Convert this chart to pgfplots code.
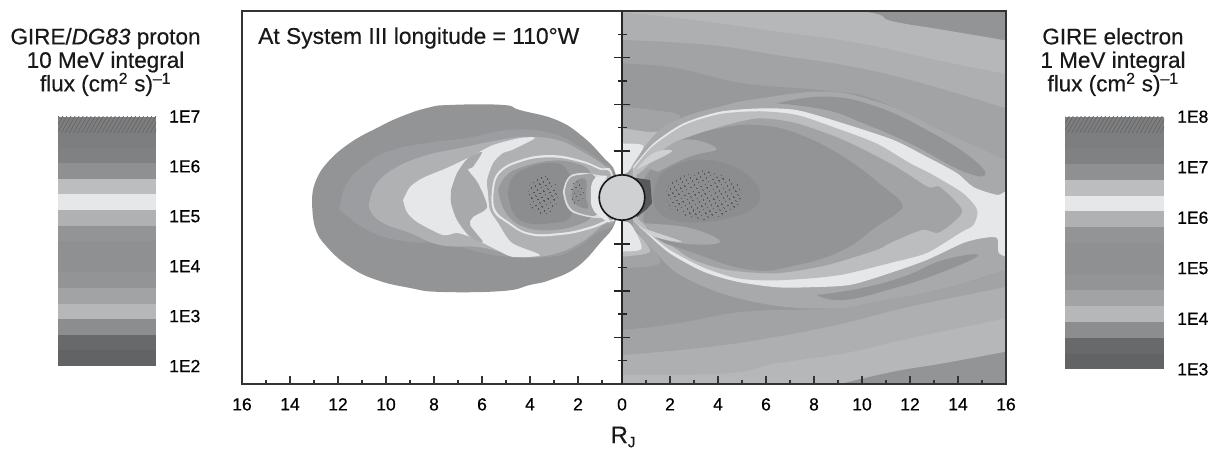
\documentclass[border=0pt]{standalone}
\usepackage{fontspec}
\setmainfont{Liberation Sans}[RawFeature={embolden=0.45}]
\usepackage{pgfplots}
\pgfplotsset{compat=1.18}
\usetikzlibrary{patterns.meta}
\definecolor{c62}{HTML}{626365}\definecolor{c68}{HTML}{68696B}
\definecolor{c7d}{HTML}{7D7E80}\definecolor{c80}{HTML}{808183}
\definecolor{c8c}{HTML}{8C8D8F}\definecolor{c8f}{HTML}{8F9092}
\definecolor{c93}{HTML}{939496}\definecolor{c98}{HTML}{98999B}
\definecolor{c9c}{HTML}{9C9DA0}\definecolor{ca2}{HTML}{A2A3A5}
\definecolor{ca8}{HTML}{A8A9AB}\definecolor{cae}{HTML}{AEAFB1}
\definecolor{cb0}{HTML}{B0B1B3}\definecolor{cb6}{HTML}{B6B7B9}
\definecolor{cbc}{HTML}{BCBDBF}\definecolor{cdc}{HTML}{DCDDDF}
\definecolor{ce6}{HTML}{E6E7E8}\definecolor{cd0}{HTML}{CFD0D1}
\definecolor{frame}{HTML}{333333}
\newcommand{\reg}[2]{\addplot[fill=#1,draw=none,smooth,tension=0.75,forget plot] coordinates {#2};}
\newcommand{\regs}[2]{\addplot[fill=#1,draw=none,smooth,tension=0.45,forget plot] coordinates {#2};}
\newcommand{\hotspot}[1]{\addplot[draw=none,forget plot,pattern={Dots[distance=4pt,radius=0.8pt,angle=30]},pattern color=black!75] coordinates {#1};}
\newcommand{\band}[3]{\addplot[fill=#1,draw=none,forget plot] coordinates {(0,#2)(1,#2)(1,#3)(0,#3)};}
\newcommand{\ticksfont}{\fontsize{17.5}{18}\selectfont}
\newcommand{\titlefont}{\fontsize{22.5}{23.5}\selectfont}
\pgfplotsset{cbar/.style={scale only axis,xmin=0,xmax=1,ymin=2,ymax=7,xtick=\empty,
  ytick={2,3,4,5,6,7},ytick pos=right,yticklabel pos=right,axis line style={draw=none},
  tick style={draw=none},anchor=south west,
  yticklabel style={font=\ticksfont,anchor=west,inner sep=0pt,xshift=13pt}}}
\begin{document}
\begin{tikzpicture}[x=1pt,y=1pt]
\path[use as bounding box] (0,0) rectangle (1210,456);

% left colour bar: proton flux, exponent of ten
\begin{axis}[cbar,at={(58pt,90pt)},width=98pt,height=249.5pt,
  yticklabels={1E2,1E3,1E4,1E5,1E6,1E7}]
\band{c62}{2}{2.3125}\band{c68}{2.3125}{2.625}\band{c8c}{2.625}{2.9375}
\band{cb6}{2.9375}{3.25}\band{ca2}{3.25}{3.5625}\band{c93}{3.5625}{3.875}
\band{c8f}{3.875}{4.1875}\band{c8f}{4.1875}{4.5}\band{c93}{4.5}{4.8125}
\band{cb0}{4.8125}{5.125}\band{ce6}{5.125}{5.4375}\band{cbc}{5.4375}{5.75}
\band{c8f}{5.75}{6.0625}\band{c80}{6.0625}{6.375}\band{c7d}{6.375}{6.6875}
\band{c7d}{6.6875}{7}
\addplot[draw=none,forget plot,pattern={Lines[angle=60,distance=3.5pt,line width=0.7pt]},pattern color=black!60] coordinates {(0,6.6875)(1,6.6875)(1,7)(0,7)};
\end{axis}

% right colour bar: electron flux
\begin{axis}[cbar,at={(1065pt,86.7pt)},width=99pt,height=252.6pt,
  yticklabels={1E3,1E4,1E5,1E6,1E7,1E8}]
\band{c62}{2}{2.3125}\band{c68}{2.3125}{2.625}\band{c8c}{2.625}{2.9375}
\band{cb6}{2.9375}{3.25}\band{ca2}{3.25}{3.5625}\band{c93}{3.5625}{3.875}
\band{c8f}{3.875}{4.1875}\band{c8f}{4.1875}{4.5}\band{c93}{4.5}{4.8125}
\band{cb0}{4.8125}{5.125}\band{ce6}{5.125}{5.4375}\band{cbc}{5.4375}{5.75}
\band{c8f}{5.75}{6.0625}\band{c80}{6.0625}{6.375}\band{c7d}{6.375}{6.6875}
\band{c7d}{6.6875}{7}
\addplot[draw=none,forget plot,pattern={Lines[angle=60,distance=3.5pt,line width=0.7pt]},pattern color=black!60] coordinates {(0,6.6875)(1,6.6875)(1,7)(0,7)};
\end{axis}

% left half: protons
\begin{axis}[scale only axis,at={(242pt,72pt)},anchor=south west,width=380pt,height=373pt,
  xmin=-16,xmax=-0.1667,ymin=-8,ymax=8,axis on top,
  xtick={-16,-14,-12,-10,-8,-6,-4,-2},xticklabels={16,14,12,10,8,6,4,2},
  minor xtick={-15,-13,-11,-9,-7,-5,-3,-1},ytick=\empty,
  xtick pos=bottom,tick align=inside,major tick length=8pt,minor tick length=4.5pt,
  tick style={frame,line width=1.5pt},
  axis line style={frame,line width=1.8pt},
  xticklabel style={font=\ticksfont,inner sep=0pt,yshift=-14pt}]
\reg{c93}{(-13.08,-.11)(-12.96,.62)(-12.46,1.48)(-11.5,2.34)(-10.38,2.98)(-9.42,3.45)(-8.29,3.84)(-7.33,3.97)(-5.13,3.97)(-4.42,3.75)(-2.88,3.32)(-1.79,2.60)(-.96,1.74)(-.46,1.09)(-.38,.02)(-.46,-1.09)(-1.08,-1.95)(-2.04,-2.98)(-3.17,-3.54)(-4,-3.75)(-5.13,-4.01)(-7.75,-4.05)(-9,-3.88)(-10.38,-3.54)(-11.5,-2.98)(-12.46,-2.12)(-12.96,-1.27)(-13.08,-.11)}
\reg{c9c}{(-11.92,-.41)(-11.63,.62)(-10.79,1.48)(-9.71,2.04)(-8.04,2.38)(-6.63,2.55)(-4.83,2.9)(-3.17,2.77)(-1.92,2.17)(-.96,1.48)(-.54,1.05)(-.46,-.97)(-1.21,-1.52)(-2.21,-2.25)(-3.17,-2.55)(-4.71,-2.55)(-5.96,-2.38)(-7.63,-1.95)(-9,-1.91)(-10.54,-1.52)(-11.79,-.66)(-11.92,-.41)}
\reg{cb0}{(-10.67,-.11)(-10.38,.62)(-9.54,1.31)(-8.29,1.82)(-6.92,2.12)(-5.25,2.47)(-4.13,2.6)(-2.88,2.47)(-1.79,1.95)(-.79,1.27)(-.54,.88)(-.46,-.88)(-.96,-1.18)(-1.92,-1.95)(-3.17,-2.47)(-4.54,-2.55)(-5.25,-2.34)(-6.21,-2.12)(-7.75,-2.04)(-9,-1.52)(-10.13,-1.09)(-10.67,-.54)(-10.67,-.11)}
\regs{ce6}{(-9.29,-.11)(-9,.45)(-8.46,.84)(-7.46,1.27)(-6.5,1.74)(-5.54,2.25)(-4.42,2.55)(-3.79,2.55)(-4.75,2.04)(-5.13,1.91)(-5.54,1.48)(-5.79,.75)(-5.75,.19)(-5.67,-.54)(-5.33,-1.09)(-4.75,-1.95)(-3.58,-2.47)(-4.71,-2.55)(-5.38,-2.25)(-6.38,-1.74)(-7.04,-1.52)(-7.63,-1.61)(-8.71,-1.05)(-9.13,-.62)(-9.29,-.11)}
\regs{ca8}{(-7.29,.32)(-7.04,1.05)(-6.58,1.69)(-6,1.95)(-6.38,1.31)(-6.58,1.18)(-6.17,.62)(-5.79,-.41)(-6.38,-.84)(-6.5,-1.18)(-5.96,-1.91)(-6.5,-1.69)(-7.04,-.97)(-7.29,-.24)(-7.29,.32)}
\reg{ce6}{(-5.58,.32)(-5.33,1.09)(-4.42,1.61)(-3.17,1.82)(-1.92,1.61)(-1.08,1.27)(-.58,1.05)(-.42,-.75)(-.79,-1.05)(-1.63,-1.39)(-2.75,-1.61)(-4,-1.61)(-4.96,-1.09)(-5.54,-.54)(-5.58,.32)}
\reg{cae}{(-5.5,.32)(-5.26,1.03)(-4.4,1.52)(-3.17,1.72)(-1.92,1.52)(-1.12,1.2)(-.62,.95)(-.5,-.75)(-.88,-.99)(-1.67,-1.3)(-2.75,-1.52)(-4,-1.52)(-4.88,-1.04)(-5.46,-.48)(-5.5,.32)}
\reg{c98}{(-5.33,.32)(-5.04,.88)(-4.42,1.27)(-3.17,1.57)(-2.13,1.48)(-1.5,1.09)(-1.35,.2)(-1.42,-.62)(-1.71,-1.05)(-2.96,-1.39)(-4.21,-1.27)(-5,-.66)(-5.33,.32)}
\reg{c8c}{(-4.92,.19)(-4.71,.88)(-4,1.31)(-3.04,1.48)(-2.46,1.18)(-2.2,.19)(-2.33,-.84)(-3.04,-1.09)(-4.13,-1.09)(-4.71,-.62)(-4.92,.19)}
\hotspot{(-2.83,.11)(-2.91,.54)(-3.15,.85)(-3.46,.97)(-3.77,.85)(-4.01,.54)(-4.09,.11)(-4.01,-.32)(-3.77,-.63)(-3.46,-.75)(-3.15,-.63)(-2.91,-.32)}
\reg{cdc}{(-2.63,.24)(-2.42,.84)(-1.92,1.05)(-1.21,.97)(-.8,.8)(-.75,.1)(-.8,-.7)(-1.08,-.88)(-1.92,-.75)(-2.42,-.45)(-2.63,.24)}
\reg{ca2}{(-2.55,.24)(-2.37,.79)(-1.9,.97)(-1.3,.9)(-1.45,.02)(-1.2,-.72)(-1.9,-.68)(-2.37,-.37)(-2.55,.24)}
\reg{c8f}{(-2.25,.24)(-2.08,.71)(-1.67,.75)(-1.67,.02)(-1.58,-.45)(-2,-.36)(-2.25,-.11)(-2.25,.24)}
\hotspot{(-1.75,.24)(-1.83,.66)(-2.04,.84)(-2.25,.66)(-2.34,.24)(-2.25,-.18)(-2.04,-.36)(-1.83,-.18)}
\reg{ce6}{(-1.21,.88)(-1.42,.62)(-1.46,.02)(-1.42,-.41)(-1.17,-.75)(-.67,-1.05)(-1.08,-.32)(-1.13,.02)(-1.08,.54)(-.79,.92)(-1.21,.88)}
\end{axis}

% right half: electrons
\begin{axis}[scale only axis,at={(622pt,72pt)},anchor=south west,width=384pt,height=373pt,
  xmin=0,xmax=16,ymin=-8,ymax=8,axis on top,
  xtick={0,2,...,16},minor xtick={1,3,...,15},ytick=\empty,
  xtick pos=bottom,tick align=inside,major tick length=8pt,minor tick length=4.5pt,
  tick style={frame,line width=1.5pt},
  axis line style={frame,line width=1.8pt},
  xticklabel style={font=\ticksfont,inner sep=0pt,yshift=-14pt},
  xticklabels={0,2,4,6,8,10,12,14,16}]
\addplot[fill=c93,draw=none,forget plot] coordinates {(-1,-9)(17,-9)(17,9)(-1,9)};
\reg{cb6}{(-1,9)(9.15,8.1)(11.3,7.55)(13.39,7.19)(16,6.73)(17,6.5)(17,-6.4)(16,-6.61)(13.39,-7.11)(11.3,-7.47)(9.08,-8)(8,-8.3)(-1,-9)}
\reg{cae}{(-1,8)(0,7.94)(2.97,7.62)(6.44,7.12)(9.92,6.61)(13.39,5.83)(16,5.3)(17,5.1)(17,-5)(16,-5.18)(12,-6.04)(9.22,-6.69)(6.44,-7.11)(4.36,-7.54)(0,-7.6)(-1,-7.65)}
\reg{ca2}{(-1,6.8)(0,6.76)(3.67,6.54)(6.44,6.11)(9.22,5.68)(12,5.04)(16,3.83)(17,3.5)(17,-3.6)(16,-3.83)(12,-4.68)(9.22,-5.4)(6.44,-5.97)(3.67,-6.4)(0,-6.76)(-1,-6.8)}
\reg{c98}{(-1,5.8)(0,5.76)(2.28,5.54)(5.06,4.9)(8.53,4.58)(10.6,4.18)(13.39,2.75)(16,1.61)(17,1.2)(17,-2.8)(16,-3.11)(13.39,-3.9)(10.6,-4.4)(8.53,-4.76)(5.06,-4.9)(2.28,-5.4)(0,-5.68)(-1,-5.7)}
\regs{ca2}{(-.5,3.9)(0,3.9)(1.31,3.75)(2.42,3.47)(1.17,2.2)(.5,1.2)(-.5,1)}
\regs{ca2}{(-.5,-1)(.89,-1.68)(1.58,-2.82)(0,-3.04)(-.5,-3.04)}
\regs{cbc}{(-.5,2.97)(0,2.97)(1.03,2.82)(1.79,2.75)(.89,1.75)(.33,1.18)(-.5,1)}
\regs{cbc}{(-.5,-1)(.47,-1.39)(1.17,-2.32)(0,-2.54)(-.5,-2.54)}
\regs{ce6}{(-.5,2.32)(0,2.32)(.89,2.22)(.47,1.47)(.19,1.04)(-.5,1)}
\regs{ce6}{(-.5,-1)(.33,-1.11)(.82,-2.18)(0,-2.32)(-.5,-2.32)}
\reg{ca8}{(.3,1)(1.17,2.47)(2.28,3.32)(4.08,3.9)(5.75,4.25)(8.53,4.54)(10.6,4.11)(12,3.54)(13.39,2.82)(16,1.61)(17,1.2)(17,-2.8)(16,-3.11)(13.39,-3.9)(10.6,-4.47)(8.53,-4.76)(5.47,-4.47)(2.69,-3.47)(1.31,-2.25)(.47,-1.25)}
\reg{c93}{(6.44,4.04)(8.53,4.33)(10.6,3.9)(12.69,2.9)(14.5,1.75)(15.13,.96)(14.08,1.18)(12,2.32)(10.06,3.18)(8.53,3.75)(6.44,4.04)}
\reg{c93}{(8.11,-4.18)(9.92,-3.9)(11.72,-3.4)(13.39,-2.68)(14.85,-2.47)(13.39,-3.18)(11.3,-3.9)(9.22,-4.4)(8.11,-4.18)}
\regs{ce6}{(.47,1.32)(1.31,2.32)(2.56,3.18)(4.08,3.68)(5.75,3.82)(7.28,3.75)(9.22,3.18)(11.3,2.47)(12.69,1.75)(13.95,1.05)(14.64,.45)(15.63,.11)(16.2,.19)(16.2,-2.38)(15.7,-2.38)(15.63,-1.74)(15.04,-1.74)(14.2,-1.96)(12.7,-2.68)(11.17,-3.24)(9.5,-3.75)(7.83,-3.85)(6.44,-3.85)(4.78,-3.61)(3.39,-3.18)(2,-2.4)(1.03,-1.54)(.47,-.97)}
\regs{cbc}{(.47,1.22)(1.25,2.17)(2.56,3.09)(4.08,3.58)(5.75,3.7)(7.28,3.54)(8.94,2.97)(10.6,2.32)(12,1.47)(12.83,1.04)(14.2,.19)(14.8,-.54)(14.64,-1.18)(14.08,-1.52)(12.7,-2.38)(11.17,-2.81)(9.22,-3.3)(7.83,-3.47)(6.17,-3.56)(4.78,-3.46)(3.39,-3.0)(2,-2.25)(.98,-1.42)(.47,-.97)}
\regs{ca2}{(.6,.95)(.89,1.18)(2,2.18)(2.83,2.61)(4.36,3.11)(5.75,3.4)(7.28,3.18)(9.22,2.47)(11.3,1.39)(12.75,.45)(13.25,.45)(14.17,-.54)(13.67,-1.18)(13.13,-1.52)(12.5,-1.39)(11.17,-1.95)(10.6,-2.25)(8.53,-2.9)(6.44,-3.25)(4.36,-3.1)(2.83,-2.6)(1.5,-1.6)(.7,-.95)}
\reg{c93}{(.95,.85)(1.5,1.6)(2.2,2.3)(2.83,2.61)(4.08,2.97)(5.61,3.11)(7.28,2.75)(9.22,1.75)(10.89,.46)(11.65,-.25)(11.44,-.68)(10.6,-1.25)(9.22,-2.25)(7.28,-2.9)(5.33,-3.1)(2.83,-2.32)(1.44,-1.75)(.89,-.96)}
\reg{ca8}{(1.0,1.3)(2.4,2.45)(3.94,2.1)(2.8,1.75)(1.5,1.1)}
\reg{ca8}{(.9,-1.1)(1.5,-1.7)(2.8,-2.0)(4.08,-1.9)(3.0,-1.35)(1.6,-1.15)}
\reg{cd0}{(.6,1.2)(1.3,1.9)(2.1,2.0)(1.3,1.55)}
\reg{cd0}{(.7,-1.25)(1.4,-1.7)(2.5,-1.9)(1.4,-1.5)}
\reg{c8c}{(1.3,0)(1.6,.95)(2.4,1.45)(3.4,1.62)(4.6,1.35)(5.5,.7)(5.75,0)(5.4,-.5)(4.6,-.85)(3.4,-1.05)(2.2,-1.0)(1.5,-.6)(1.3,0)}
\hotspot{(5,.1)(4.8,.62)(4.2,.95)(3.4,1.17)(2.6,.95)(2,.62)(1.8,.1)(2,-.42)(2.6,-.8)(3.4,-.97)(4.2,-.8)(4.8,-.42)}
\end{axis}

% the centre line with its ticks, and Jupiter
\begin{axis}[scale only axis,at={(622pt,72pt)},anchor=south west,width=384pt,height=373pt,
  xmin=0,xmax=16,ymin=-8,ymax=8,clip=false,
  axis x line=none,axis y line=left,axis line style={-,black!85,line width=2.2pt},
  ytick={-6,-4,-2,2,4,6},minor ytick={-7,-5,-3,3,5,7},yticklabels={},
  tick align=center,major tick length=16pt,minor tick length=9pt,
  tick style={black!85,line width=1.5pt}]
\addplot[fill=black!65,draw=none,forget plot] coordinates {(.33,.88)(1.17,.75)(1.25,-.24)(1.04,-.49)(.63,-.84)(0,0)};
\addplot[fill=cd0,draw=black!90,line width=1.6pt,smooth,tension=0.6,forget plot] coordinates {(.95,0)(.918,.251)(.823,.485)(.672,.686)(.475,.84)(.246,.937)(0,.97)(-.246,.937)(-.475,.84)(-.672,.686)(-.823,.485)(-.918,.251)(-.95,0)(-.918,-.251)(-.823,-.485)(-.672,-.686)(-.475,-.84)(-.246,-.937)(0,-.97)(.246,-.937)(.475,-.84)(.672,-.686)(.823,-.485)(.918,-.251)(.95,0)};
\end{axis}

\node[anchor=west,inner sep=0pt,font=\fontsize{22.8}{24}\selectfont,text=black!90] at (258,418) {At System III longitude = 110°W};
\node[align=center,inner sep=0pt,font=\titlefont,text=black!90] at (105.5,394) {GIRE/\textit{DG83} proton\\10 MeV integral\\flux (cm\textsuperscript{2} s)\textsuperscript{–1}};
\node[align=center,inner sep=0pt,font=\titlefont,text=black!90] at (1113,394) {GIRE electron\\1 MeV integral\\flux (cm\textsuperscript{2} s)\textsuperscript{–1}};
\node[inner sep=0pt,font=\fontsize{24}{25}\selectfont,text=black!90] at (623,19) {R\raisebox{-4pt}{\fontsize{15}{15}\selectfont J}};
\end{tikzpicture}
\end{document}
